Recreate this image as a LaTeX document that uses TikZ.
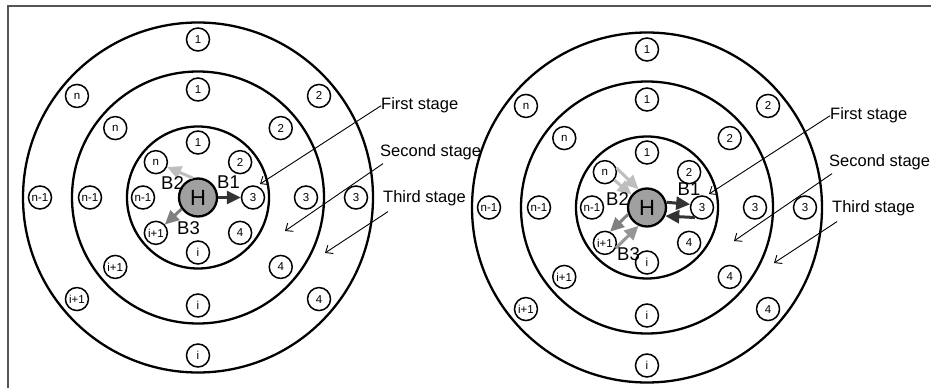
\documentclass[tikz,border=0pt]{standalone}
\usepackage{fontspec}
\setmainfont{Liberation Sans}
\usetikzlibrary{arrows.meta}
\definecolor{hfill}{RGB}{160,160,160}
\definecolor{bdark}{RGB}{51,51,51}
\definecolor{bmid}{RGB}{128,128,128}
\definecolor{bmidl}{RGB}{150,150,150}
\definecolor{blight}{RGB}{190,190,190}
\definecolor{framec}{RGB}{85,85,85}
\begin{document}
\begin{tikzpicture}[x=1pt,y=1pt,
  ring/.style={draw, line width=2.3pt},
  atom/.style={circle, draw, line width=1.5pt, minimum size=23pt, inner sep=0pt, fill=white, font=\fontsize{11.5}{11.5}\selectfont},
  hub/.style={circle, draw, line width=2.3pt, fill=hfill, minimum size=38pt, inner sep=0pt, font=\fontsize{22}{22}\selectfont},
  blab/.style={font=\fontsize{18.5}{18.5}\selectfont, inner sep=0pt},
  stagelab/.style={font=\fontsize{16.5}{16.5}\selectfont, inner sep=0pt, anchor=base west},
  stagearrow/.style={line width=0.9pt, -{Straight Barb[length=6pt,width=10pt]}},
  barrow/.style={line width=3pt, -{Triangle[length=14pt,width=13pt]}},
]
\useasboundingbox (0,0) rectangle (931,388);
\draw[framec, line width=1.3pt] (8,0) -- (8,382) -- (931,382);

\foreach \p/\cx/\cy in {L/198/190.5, R/647/180.5} {
  \begin{scope}[shift={(\cx,\cy)}]
    \draw[ring] (0,0) circle[radius=71];
    \draw[ring] (0,0) circle[radius=126];
    \draw[ring] (0,0) circle[radius=175];
    \foreach \k/\a/\t in {a/90/1, b/40/2, c/0/3, d/-40/4, e/-90/i, f/-140/i+1, g/180/n-1, h/140/n} {
      \node[atom] (\p in-\k) at (\a:55) {\t};
      \node[atom] (\p mid-\k) at (\a:108) {\t};
      \node[atom] (\p out-\k) at (\a:158) {\t};
    }
    \node[hub] (\p H) at (0,0) {H};
  \end{scope}
}

% left diagram arrows
\draw[barrow, bdark] (LH) -- (Lin-c);
\draw[barrow, blight] (LH.105) -- (Lin-h);
\draw[barrow, bmid] (LH.215) -- (Lin-f);
\node[blab] (LB1) at (228.5,205.5) {B1};
\node[blab] (LB2) at (172.5,204.5) {B2};
\node[blab] (LB3) at (188.5,159.5) {B3};

% right diagram arrows
\draw[barrow, bdark] (RH.15) -- (Rin-c.165);
\draw[barrow, bdark] (Rin-c.235) -- (RH.-25);
\draw[barrow, blight] (Rin-h.20) -- (RH.115);
\draw[barrow, blight] (Rin-h.-40) -- (RH.140);
\draw[barrow, bmid] (RH.200) -- (Rin-f.65);
\draw[barrow, bmidl] (Rin-f.-25) -- (RH.-115);
\node[blab] (RB1) at (689,199) {B1};
\node[blab] (RB2) at (617.5,189) {B2};
\node[blab] (RB3) at (628.5,134) {B3};

% stage labels
\foreach \p/\dx/\dy in {L/0/0, R/449/-10} {
  \begin{scope}[shift={(\dx,\dy)}]
    \node[stagelab] (\p first) at (381,278) {First stage};
    \node[stagelab] (\p second) at (380,231) {Second stage};
    \node[stagelab] (\p third) at (383,185) {Third stage};
    \coordinate (\p t1) at (260,204);
    \coordinate (\p t2) at (285,157);
    \coordinate (\p t3) at (325,135);
  \end{scope}
  \draw[stagearrow] (\p first.west) -- (\p t1);
  \draw[stagearrow] ([shift={(3pt,-3pt)}]\p second.south west) -- (\p t2);
  \draw[stagearrow] ([shift={(5pt,-5pt)}]\p third.south west) -- (\p t3);
}
\end{tikzpicture}
\end{document}
